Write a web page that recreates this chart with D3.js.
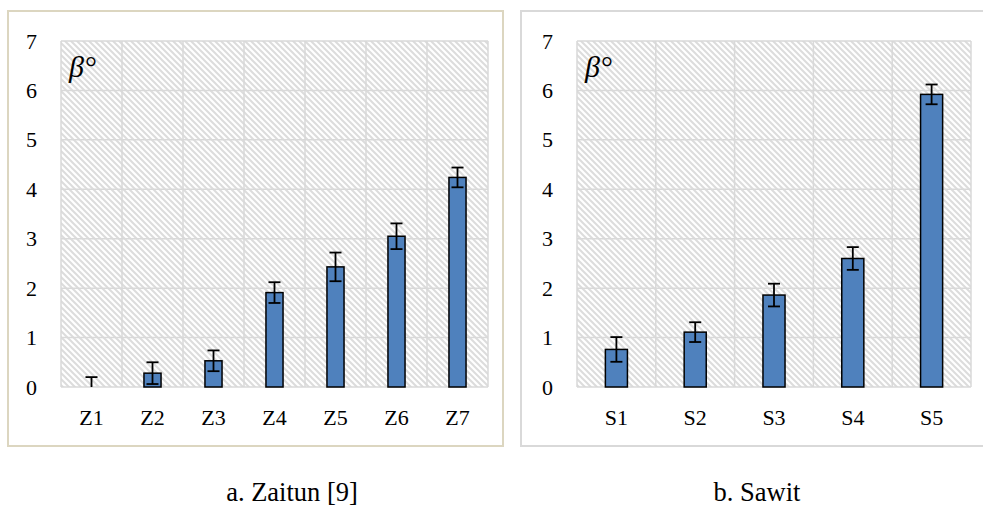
<!DOCTYPE html>
<html lang="en">
<head>
    <meta charset="UTF-8">
    <title>Beta</title>
    <style>
        html, body { margin: 0; padding: 0; background: #fff; }
        svg { display: block; }
    </style>
</head>
<body>
    <div id="chart"></div>

    <script src="https://d3js.org/d3.v7.min.js"></script>
    <script>
        // data
        const zCats = ['Z1', 'Z2', 'Z3', 'Z4', 'Z5', 'Z6', 'Z7']
        const zVals = [0, 0.28, 0.53, 1.91, 2.43, 3.05, 4.24]
        const zErr = [0.2, 0.22, 0.21, 0.21, 0.29, 0.26, 0.2]

        const sCats = ['S1', 'S2', 'S3', 'S4', 'S5']
        const sVals = [0.76, 1.11, 1.86, 2.6, 5.92]
        const sErr = [0.25, 0.2, 0.23, 0.23, 0.2]

        const yTicks = [0, 1, 2, 3, 4, 5, 6, 7]

        const width = 983
        const height = 507
        const barColor = '#4f81bd'
        const gridColor = '#d9d9d9'
        const serif = '"Liberation Serif", "DejaVu Serif", "Times New Roman", serif'

        const svg = d3.select('#chart')
            .append('svg')
            .attr('width', width)
            .attr('height', height)
            .attr('font-family', serif)

        // diagonal hatch behind the plot area
        const defs = svg.append('defs')
        const pat = defs.append('pattern')
            .attr('id', 'hatch')
            .attr('patternUnits', 'userSpaceOnUse')
            .attr('width', 6)
            .attr('height', 6)
        pat.append('rect').attr('width', 6).attr('height', 6).attr('fill', '#fff')
        pat.append('path')
            .attr('d', 'M-1,-1 L7,7 M-4,2 L2,8 M4,-2 L8,2')
            .attr('stroke', '#dcdcdc')
            .attr('stroke-width', 2)

        drawPanel({
            cats: zCats, vals: zVals, errs: zErr,
            frame: [8, 11, 503, 446], frameColor: '#dcd6c0',
            plot: [61, 41, 488, 387],
            caption: 'a. Zaitun [9]', capX: 292
        })

        drawPanel({
            cats: sCats, vals: sVals, errs: sErr,
            frame: [521, 11, 995, 446], frameColor: '#d9d9d9',
            plot: [577, 41, 971, 387],
            caption: 'b. Sawit', capX: 757
        })

        function drawPanel(o) {
            const [fx0, fy0, fx1, fy1] = o.frame
            const [px0, py0, px1, py1] = o.plot
            const g = svg.append('g')

            g.append('rect')
                .attr('x', fx0).attr('y', fy0)
                .attr('width', fx1 - fx0).attr('height', fy1 - fy0)
                .attr('fill', '#fff')
                .attr('stroke', o.frameColor)
                .attr('stroke-width', 2)

            const x = d3.scaleBand()
                .domain(o.cats)
                .range([px0, px1])
                .padding(0)

            const y = d3.scaleLinear()
                .domain([0, 7])
                .range([py1, py0])

            g.append('rect')
                .attr('x', px0).attr('y', py0)
                .attr('width', px1 - px0).attr('height', py1 - py0)
                .attr('fill', 'url(#hatch)')

            // grid
            const grid = g.append('g')
                .attr('stroke', gridColor)
                .attr('stroke-width', 1.5)
            grid.selectAll('line.h')
                .data(yTicks)
                .join('line')
                .attr('class', 'h')
                .attr('x1', px0).attr('x2', px1)
                .attr('y1', d => y(d)).attr('y2', d => y(d))
            const edges = o.cats.map(c => x(c)).concat([px1])
            grid.selectAll('line.v')
                .data(edges)
                .join('line')
                .attr('class', 'v')
                .attr('x1', d => d).attr('x2', d => d)
                .attr('y1', py0).attr('y2', py1)

            // y tick labels
            g.append('g')
                .selectAll('text')
                .data(yTicks)
                .join('text')
                .attr('x', px0 - 24)
                .attr('y', d => y(d))
                .attr('text-anchor', 'end')
                .attr('dominant-baseline', 'central')
                .style('font-size', '22px')
                .text(d => d)

            // x tick labels
            g.append('g')
                .selectAll('text')
                .data(o.cats)
                .join('text')
                .attr('x', d => x(d) + x.bandwidth() / 2)
                .attr('y', py1 + 38)
                .attr('text-anchor', 'middle')
                .style('font-size', '22px')
                .text(d => d)

            // bars
            const bw = x.bandwidth() * 0.28
            const rows = o.cats.map((c, i) => ({ c, v: o.vals[i], e: o.errs[i] }))
            g.append('g')
                .selectAll('rect')
                .data(rows.filter(d => d.v > 0))
                .join('rect')
                .attr('x', d => x(d.c) + (x.bandwidth() - bw) / 2)
                .attr('y', d => y(d.v))
                .attr('width', bw)
                .attr('height', d => y(0) - y(d.v))
                .attr('fill', barColor)
                .attr('stroke', '#000')
                .attr('stroke-width', 1.5)

            // error bars, cut at the axis like the original
            const eg = g.append('g')
                .attr('stroke', '#000')
                .attr('stroke-width', 1.8)
            const cap = 6
            rows.forEach(d => {
                const cx = x(d.c) + x.bandwidth() / 2
                const hi = d.v + d.e
                const lo = Math.max(0, d.v - d.e)
                eg.append('line')
                    .attr('x1', cx).attr('x2', cx)
                    .attr('y1', y(hi)).attr('y2', y(lo))
                eg.append('line')
                    .attr('x1', cx - cap).attr('x2', cx + cap)
                    .attr('y1', y(hi)).attr('y2', y(hi))
                if (d.v - d.e >= 0) {
                    eg.append('line')
                        .attr('x1', cx - cap).attr('x2', cx + cap)
                        .attr('y1', y(lo)).attr('y2', y(lo))
                }
            })

            // axis symbol
            g.append('text')
                .attr('x', px0 + 8)
                .attr('y', py0 + 36)
                .style('font-size', '30px')
                .style('font-style', 'italic')
                .text('β°')

            // caption
            g.append('text')
                .attr('x', o.capX)
                .attr('y', 501)
                .attr('text-anchor', 'middle')
                .style('font-size', '26.5px')
                .text(o.caption)
        }
    </script>
</body>
</html>
